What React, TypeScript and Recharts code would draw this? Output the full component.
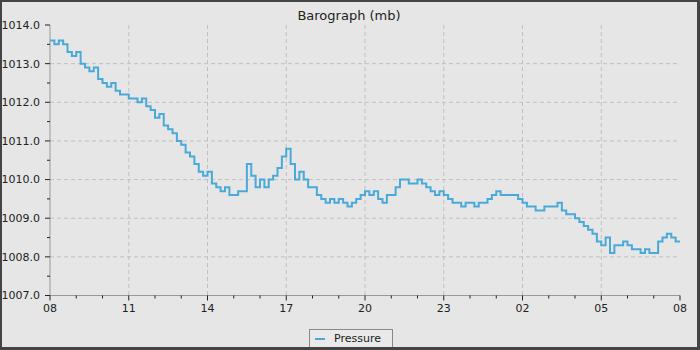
import React from "react";
import { LineChart, Line, XAxis, YAxis, CartesianGrid, Legend } from "recharts";

// Pressure readings (mb), sampled every 10 minutes starting 08:00
const pressure: number[] = [
  1013.6, 1013.5, 1013.6, 1013.5, 1013.3, 1013.2, 1013.3, 1013.0, 1012.9, 1012.8,
  1012.9, 1012.6, 1012.5, 1012.4, 1012.5, 1012.3, 1012.2, 1012.2, 1012.1, 1012.1,
  1012.0, 1012.1, 1011.9, 1011.8, 1011.6, 1011.7, 1011.4, 1011.3, 1011.2, 1011.0,
  1010.9, 1010.7, 1010.6, 1010.4, 1010.2, 1010.1, 1010.2, 1009.9, 1009.8, 1009.7,
  1009.8, 1009.6, 1009.6, 1009.7, 1009.7, 1010.4, 1010.1, 1009.8, 1010.0, 1009.8,
  1010.0, 1010.1, 1010.3, 1010.6, 1010.8, 1010.4, 1010.0, 1010.2, 1010.0, 1009.8,
  1009.8, 1009.6, 1009.5, 1009.4, 1009.5, 1009.4, 1009.5, 1009.4, 1009.3, 1009.4,
  1009.5, 1009.6, 1009.7, 1009.6, 1009.7, 1009.5, 1009.4, 1009.6, 1009.6, 1009.8,
  1010.0, 1010.0, 1009.9, 1009.9, 1010.0, 1009.9, 1009.8, 1009.7, 1009.6, 1009.7,
  1009.6, 1009.5, 1009.4, 1009.4, 1009.3, 1009.4, 1009.4, 1009.3, 1009.4, 1009.4,
  1009.5, 1009.6, 1009.7, 1009.6, 1009.6, 1009.6, 1009.6, 1009.5, 1009.4, 1009.3,
  1009.3, 1009.2, 1009.2, 1009.3, 1009.3, 1009.3, 1009.4, 1009.2, 1009.1, 1009.1,
  1009.0, 1008.9, 1008.8, 1008.7, 1008.6, 1008.4, 1008.3, 1008.5, 1008.1, 1008.3,
  1008.3, 1008.4, 1008.3, 1008.2, 1008.2, 1008.1, 1008.2, 1008.1, 1008.1, 1008.4,
  1008.5, 1008.6, 1008.5, 1008.4, 1008.4,
];

// minutes since 08:00 for each sample
const minutes: number[] = pressure.map((_, i) => i * 10);

const xTicks: number[] = Array.from({ length: 25 }, (_, i) => i * 60);
const xMajor: number[] = [0, 180, 360, 540, 720, 900, 1080, 1260, 1440];
const xLabels: string[] = ["08", "11", "14", "17", "20", "23", "02", "05", "08"];

const yTicks: number[] = Array.from({ length: 15 }, (_, i) => 1007 + i * 0.5);
const yGrid: number[] = [1008, 1009, 1010, 1011, 1012, 1013];

const data = minutes.map((m, i) => ({ t: m, pressure: pressure[i] }));

const FONT = "'DejaVu Sans', sans-serif";
const LINE_COLOR = "#4ba9d9";
const TICK_SIZE = 5;
const TICK_MARGIN_X = 4;
const TICK_MARGIN_Y = 5;

const XTick = (props: any) => {
  const { x, y, payload } = props;
  const axisY = y - TICK_SIZE - TICK_MARGIN_X;
  const idx = xMajor.indexOf(payload.value);
  const major = idx >= 0;
  return (
    <g>
      <line x1={x} x2={x} y1={axisY} y2={axisY + (major ? 5 : 3)} stroke="#222" strokeWidth={1} />
      {major && (
        <text x={x} y={y} dy="0.71em" textAnchor="middle" fontSize={11} fontFamily={FONT} fill="#222">
          {xLabels[idx]}
        </text>
      )}
    </g>
  );
};

const YTick = (props: any) => {
  const { x, y, payload } = props;
  const axisX = x + TICK_SIZE + TICK_MARGIN_Y;
  const v = payload.value as number;
  const major = Math.abs(v - Math.round(v)) < 1e-6;
  return (
    <g>
      <line x1={axisX - (major ? 5 : 3)} x2={axisX} y1={y} y2={y} stroke="#222" strokeWidth={1} />
      {major && (
        <text x={x} y={y} dy="0.355em" textAnchor="end" fontSize={11} fontFamily={FONT} fill="#222">
          {v.toFixed(1)}
        </text>
      )}
    </g>
  );
};

const LegendBox = () => (
  <div
    style={{
      boxSizing: "border-box",
      width: 84,
      height: 19,
      border: "1px solid #888",
      background: "#e9e9e9",
      display: "flex",
      alignItems: "center",
      fontFamily: FONT,
      fontSize: 11,
      color: "#222",
    }}
  >
    <span style={{ display: "inline-block", width: 10, height: 2, background: LINE_COLOR, marginLeft: 5, marginRight: 9 }} />
    <span>Pressure</span>
  </div>
);

export default function App() {
  return (
    <div style={{ position: "absolute", left: 0, top: 0, width: 700, height: 350, background: "#e6e6e6" }}>
      <div
        style={{
          position: "absolute",
          left: 0,
          top: 9,
          width: 698,
          textAlign: "center",
          fontFamily: FONT,
          fontSize: 13,
          lineHeight: "13px",
          color: "#222",
        }}
      >
        Barograph (mb)
      </div>
      <div style={{ position: "absolute", left: 0, top: 0 }}>
        <LineChart width={700} height={350} data={data} margin={{ top: 25, right: 20, bottom: 24.5, left: 0 }}>
          <CartesianGrid
            stroke="#c0c0c0"
            strokeDasharray="4 3"
            horizontalValues={yGrid}
            verticalValues={xMajor.slice(1, -1)}
          />
          <XAxis
            dataKey="t"
            type="number"
            domain={[0, 1440]}
            ticks={xTicks}
            interval={0}
            height={30}
            tickSize={TICK_SIZE}
            tickMargin={TICK_MARGIN_X}
            tickLine={false}
            tick={<XTick />}
            axisLine={{ stroke: "#999" }}
          />
          <XAxis
            xAxisId="top"
            orientation="top"
            dataKey="t"
            type="number"
            domain={[0, 1440]}
            height={0}
            tick={false}
            tickLine={false}
            axisLine={{ stroke: "#999" }}
          />
          <YAxis
            type="number"
            domain={[1007, 1014]}
            ticks={yTicks}
            interval={0}
            width={50}
            tickSize={TICK_SIZE}
            tickMargin={TICK_MARGIN_Y}
            tickLine={false}
            tick={<YTick />}
            axisLine={{ stroke: "#999" }}
          />
          <YAxis
            yAxisId="right"
            orientation="right"
            type="number"
            domain={[1007, 1014]}
            width={0}
            tick={false}
            tickLine={false}
            axisLine={{ stroke: "#999" }}
          />
          <Legend
            layout="horizontal"
            verticalAlign="middle"
            align="center"
            wrapperStyle={{ left: 309, top: 329, width: 84, height: 19 }}
            content={() => <LegendBox />}
          />
          <Line
            type="stepAfter"
            dataKey="pressure"
            stroke={LINE_COLOR}
            strokeWidth={2}
            dot={false}
            isAnimationActive={false}
          />
        </LineChart>
      </div>
      <div
        style={{
          position: "absolute",
          left: 0,
          top: 0,
          width: 700,
          height: 350,
          boxSizing: "border-box",
          borderStyle: "solid",
          borderColor: "#444",
          borderWidth: "2px 3px 3px 2px",
          pointerEvents: "none",
        }}
      />
    </div>
  );
}
